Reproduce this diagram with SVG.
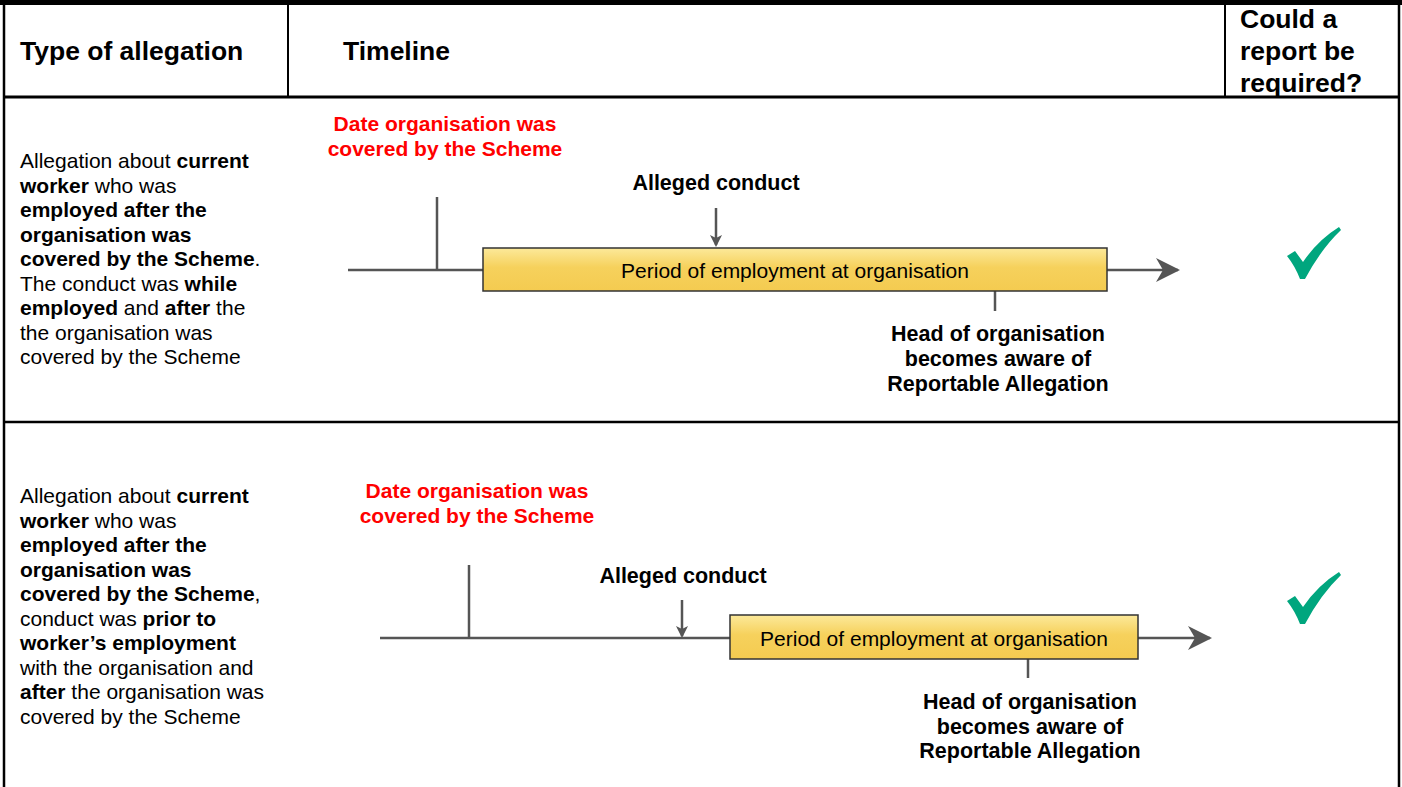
<svg xmlns="http://www.w3.org/2000/svg" width="1402" height="787" viewBox="0 0 1402 787">
<defs>
<style>
text{font-family:"Liberation Sans",Arial,sans-serif;fill:#000}
.h{font-size:26.5px;font-weight:bold}
.t{font-size:21px}
.b{font-weight:bold}
.red{font-size:21px;font-weight:bold;fill:#FF0000}
.lbl{font-size:21.5px;font-weight:bold;text-anchor:middle}
.tl{stroke:#555;stroke-width:2.5;fill:none}
.grid{stroke:#000;fill:none}
.box{fill:url(#yg);stroke:#333;stroke-width:1.5}
.chk{fill:#00A67E}
</style>
<linearGradient id="yg" x1="0" y1="0" x2="0" y2="1">
<stop offset="0" stop-color="#FCE99A"/>
<stop offset="0.45" stop-color="#F6D15C"/>
<stop offset="1" stop-color="#F4CB50"/>
</linearGradient>
<marker id="ah" viewBox="0 0 12 12" refX="10" refY="6" markerWidth="12" markerHeight="12" markerUnits="userSpaceOnUse" orient="auto">
<path d="M0,0 L12,6 L0,12 L3,6 Z" fill="#555"/>
</marker>
<marker id="big" viewBox="0 0 26 26" refX="24" refY="13" markerWidth="26" markerHeight="26" markerUnits="userSpaceOnUse" orient="auto">
<path d="M2,1 L26,13 L2,25 L9,13 Z" fill="#555"/>
</marker>
</defs>

<g id="table">
<rect x="0" y="0" width="1402" height="5" fill="#000"/>
<line class="grid" x1="4" y1="0" x2="4" y2="787" stroke-width="2.5"/>
<line class="grid" x1="1399" y1="0" x2="1399" y2="787" stroke-width="2.5"/>
<line class="grid" x1="288" y1="4" x2="288" y2="97" stroke-width="2"/>
<line class="grid" x1="1225" y1="4" x2="1225" y2="97" stroke-width="2"/>
<line class="grid" x1="3" y1="97" x2="1400" y2="97" stroke-width="3"/>
<line class="grid" x1="3" y1="422" x2="1400" y2="422" stroke-width="2.5"/>
</g>

<g id="header">
<text class="h" x="20" y="60">Type of allegation</text>
<text class="h" x="343" y="60">Timeline</text>
<text class="h" x="1240" y="28">Could a</text>
<text class="h" x="1240" y="60">report be</text>
<text class="h" x="1240" y="92">required?</text>
</g>

<g id="row1-desc">
<text class="t" x="20" y="168">Allegation about <tspan class="b">current</tspan></text>
<text class="t" x="20" y="192.5"><tspan class="b">worker</tspan> who was</text>
<text class="t b" x="20" y="217">employed after the</text>
<text class="t b" x="20" y="241.5">organisation was</text>
<text class="t" x="20" y="266"><tspan class="b">covered by the Scheme</tspan>.</text>
<text class="t" x="20" y="290.5">The conduct was <tspan class="b">while</tspan></text>
<text class="t" x="20" y="315"><tspan class="b">employed</tspan> and <tspan class="b">after</tspan> the</text>
<text class="t" x="20" y="339.5">the organisation was</text>
<text class="t" x="20" y="364">covered by the Scheme</text>
</g>

<g id="row2-desc">
<text class="t" x="20" y="503">Allegation about <tspan class="b">current</tspan></text>
<text class="t" x="20" y="527.5"><tspan class="b">worker</tspan> who was</text>
<text class="t b" x="20" y="552">employed after the</text>
<text class="t b" x="20" y="576.5">organisation was</text>
<text class="t" x="20" y="601"><tspan class="b">covered by the Scheme</tspan>,</text>
<text class="t" x="20" y="625.5">conduct was <tspan class="b">prior to</tspan></text>
<text class="t b" x="20" y="650">worker’s employment</text>
<text class="t" x="20" y="674.5">with the organisation and</text>
<text class="t" x="20" y="699"><tspan class="b">after</tspan> the organisation was</text>
<text class="t" x="20" y="723.5">covered by the Scheme</text>
</g>

<g id="connectors">
<line class="tl" x1="348" y1="270" x2="484" y2="270"/>
<line class="tl" x1="1107" y1="270" x2="1178" y2="270" marker-end="url(#big)"/>
<line class="tl" x1="437" y1="197" x2="437" y2="270"/>
<line class="tl" x1="716" y1="208" x2="716" y2="245" marker-end="url(#ah)"/>
<line class="tl" x1="995" y1="291" x2="995" y2="311"/>

<line class="tl" x1="380" y1="638" x2="731" y2="638"/>
<line class="tl" x1="1138" y1="638" x2="1210" y2="638" marker-end="url(#big)"/>
<line class="tl" x1="469" y1="565" x2="469" y2="638"/>
<line class="tl" x1="682" y1="600" x2="682" y2="636" marker-end="url(#ah)"/>
<line class="tl" x1="1028" y1="659" x2="1028" y2="678"/>
</g>

<g id="row1-timeline">
<text class="red" x="445" y="131" text-anchor="middle">Date organisation was</text>
<text class="red" x="445" y="156" text-anchor="middle">covered by the Scheme</text>
<text class="lbl" x="716" y="190">Alleged conduct</text>
<rect class="box" x="483" y="248" width="624" height="43"/>
<text class="t" x="795" y="277.5" text-anchor="middle">Period of employment at organisation</text>
<text class="lbl" x="998" y="341">Head of organisation</text>
<text class="lbl" x="998" y="366">becomes aware of</text>
<text class="lbl" x="998" y="391">Reportable Allegation</text>
</g>

<g id="row2-timeline">
<text class="red" x="477" y="498" text-anchor="middle">Date organisation was</text>
<text class="red" x="477" y="523" text-anchor="middle">covered by the Scheme</text>
<text class="lbl" x="683" y="583">Alleged conduct</text>
<rect class="box" x="730" y="615" width="408" height="44"/>
<text class="t" x="934" y="645.5" text-anchor="middle">Period of employment at organisation</text>
<text class="lbl" x="1030" y="709">Head of organisation</text>
<text class="lbl" x="1030" y="734">becomes aware of</text>
<text class="lbl" x="1030" y="758">Reportable Allegation</text>
</g>

<g id="check1">
<path class="chk" d="M1287,256 L1295,251 L1303,262 Q1318,240 1339,227 L1341,230 Q1321,249 1305,279 L1300,279 Q1295,266 1287,256 Z"/>
</g>
<g id="check2">
<path class="chk" d="M1287,601 L1295,596 L1303,607 Q1318,585 1339,572 L1341,575 Q1321,594 1305,624 L1300,624 Q1295,611 1287,601 Z"/>
</g>
</svg>
